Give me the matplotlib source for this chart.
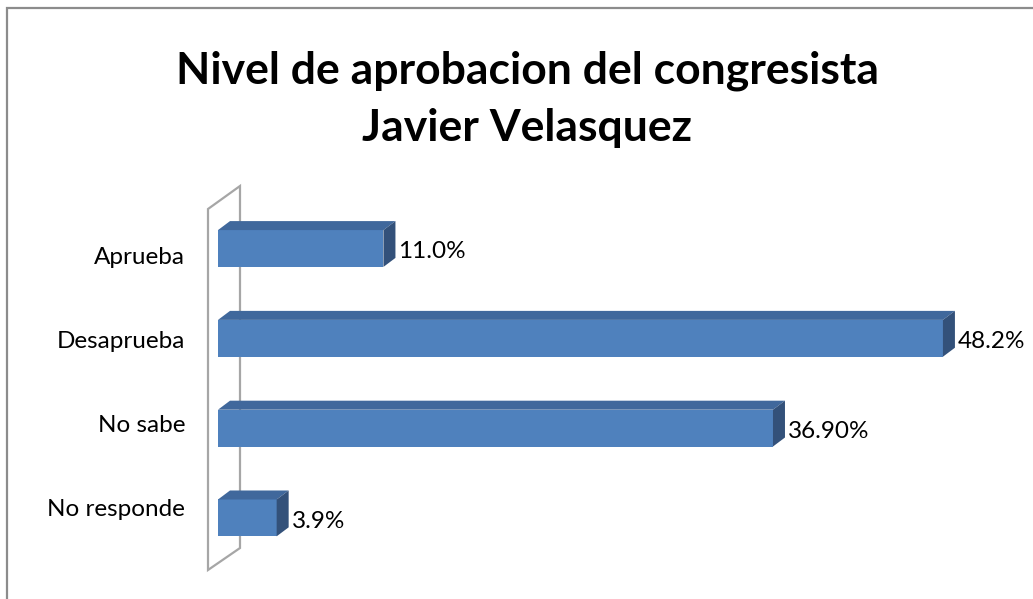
import matplotlib
matplotlib.use("Agg")
import matplotlib.pyplot as plt
from matplotlib.patches import Polygon, Rectangle

# data
categories = ["Aprueba", "Desaprueba", "No sabe", "No responde"]
values = [11.0, 48.2, 36.9, 3.9]
value_labels = ["11.0%", "48.2%", "36.90%", "3.9%"]
title = "Nivel de aprobacion del congresista\nJavier Velasquez"

W, H = 1033, 599
front = "#4F81BD"
top_col = "#40689C"
side_col = "#33517A"

plt.rcParams["font.family"] = ["Lato", "DejaVu Sans"]

fig = plt.figure(figsize=(W / 100, H / 100), dpi=100)
ax = fig.add_axes([0, 0, 1, 1])

# pixel scale of the plot area: 0% at x=218 px, 15.04 px per percent,
# bar rows 89.8 px apart starting at y=248.5 px
sx, x0 = 15.04, 218
sy, y0 = 89.8, 248.5
ax.set_xlim(-x0 / sx, (W - x0) / sx)
ax.set_ylim((H - y0) / sy, -y0 / sy)
ax.axis("off")


def px(x):
    return (x - x0) / sx


def py(y):
    return (y - y0) / sy


# outer chart border (cropped on right/bottom)
fig.patches.append(Rectangle((7 / W, -0.01), 1.05, 1 - 8 / H + 0.01,
                             transform=fig.transFigure, fill=False,
                             edgecolor="#8c8c8c", linewidth=1.6))

# back wall of the 3d chart
wall = Polygon([(px(208), py(209)), (px(240), py(186)),
                (px(240), py(548)), (px(208), py(570))],
               closed=True, facecolor="white", edgecolor="#a6a6a6",
               linewidth=1.6, zorder=1)
ax.add_patch(wall)

bar_h = 0.41
ddx, ddy = 12 / sx, -9 / sy
pos = list(range(len(categories)))

ax.barh(pos, values, height=bar_h, color=front, zorder=3)
for i, v in zip(pos, values):
    yt, yb = i - bar_h / 2, i + bar_h / 2
    ax.add_patch(Polygon([(0, yt), (v, yt), (v + ddx, yt + ddy), (ddx, yt + ddy)],
                         closed=True, facecolor=top_col, edgecolor="none", zorder=3))
    ax.add_patch(Polygon([(v, yt), (v + ddx, yt + ddy), (v + ddx, yb + ddy), (v, yb)],
                         closed=True, facecolor=side_col, edgecolor="none", zorder=3))

for i, v, lab in zip(pos, values, value_labels):
    ax.text(v + ddx + 3 / sx, i + 0.035, lab, fontsize=17.5, va="center",
            ha="left", color="black", zorder=4)

for i, cat in enumerate(categories):
    ax.text(px(185), py(257) + i * 84 / sy, cat, fontsize=17.5, va="center",
            ha="right", color="black")

fig.text(527 / W, 1 - 99 / H, title, fontsize=32, fontweight="bold",
         ha="center", va="center", linespacing=1.5)

fig.savefig("out.png", dpi=100)
